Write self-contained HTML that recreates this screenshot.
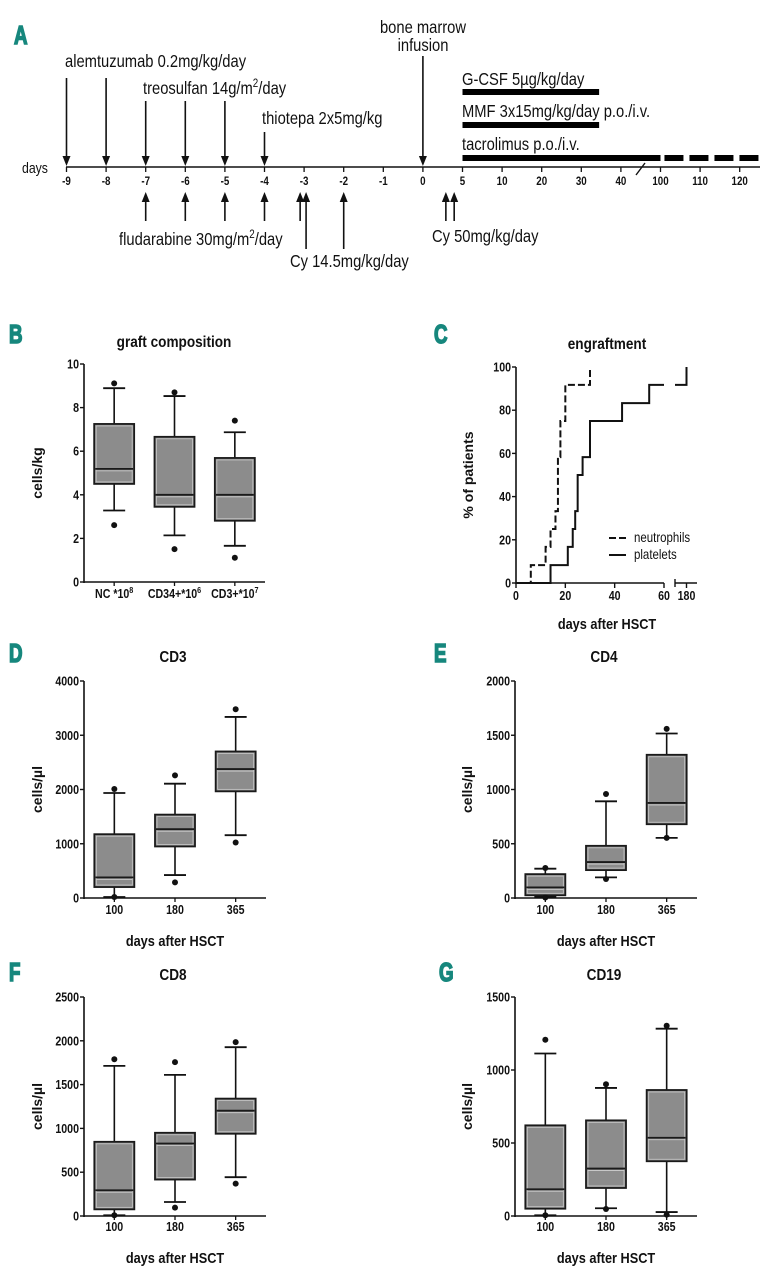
<!DOCTYPE html>
<html><head><meta charset="utf-8"><style>
html,body{margin:0;padding:0;background:#fff;}
svg{display:block;}
</style></head><body>
<svg id="fig" xmlns="http://www.w3.org/2000/svg" width="774" height="1280" viewBox="0 0 774 1280">
<rect width="774" height="1280" fill="#fff"/>
</svg>
<script>
// ---------- Panel A data ----------
const tlTickLabels=["-9","-8","-7","-6","-5","-4","-3","-2","-1","0","5","10","20","30","40","100","110","120"];
// ---------- Panel B data ----------
const bCats=["NC *10","CD34+*10","CD3+*10"];
const bExp=["8","6","7"];
const bMin=[3.28,2.14,1.66];
const bQ1=[4.5,3.45,2.81];
const bMed=[5.19,4.0,4.0];
const bQ3=[7.25,6.66,5.69];
const bMax=[8.89,8.53,6.87];
const bOutHi=[9.11,8.70,7.40];
const bOutLo=[2.61,1.51,1.11];
const bTicks=[0,2,4,6,8,10];
// ---------- Panel C data ----------
const neutDays=[6,12,14,16,17,18,20,30];
const neutPct=[8.3,16.7,25,33.3,58.3,75,91.7,100];
const platDays=[14,21,23,24,25,27,30,43,54,180];
const platPct=[8.3,16.7,25,33.3,50,58.3,75,83.3,91.7,100];
const cYTicks=[0,20,40,60,80,100];
const cXTicks=[0,20,40,60,180];
// ---------- Panels D-G data ----------
const dayCats=["100","180","365"];
const dMin=[18,423,1158], dQ1=[202,950,1966], dMed=[380,1268,2377], dQ3=[1176,1537,2701], dMax=[1936,2107,3338], dOutHi=[2009,2260,3479], dOutLo=[18,288,1023];
const dTicks=[0,1000,2000,3000,4000];
const eMin=[10,190,554], eQ1=[25,257,680], eMed=[98,331,876], eQ3=[220,481,1320], eMax=[270,891,1516], eOutHi=[276,959,1559], eOutLo=[5,175,554];
const eTicks=[0,500,1000,1500,2000];
const fMin=[8,160,443], fQ1=[76,416,939], fMed=[294,828,1202], fQ3=[847,950,1340], fMax=[1714,1611,1927], fOutHi=[1790,1756,1985], fOutLo=[8,95,370];
const fTicks=[0,500,1000,1500,2000,2500];
const gMin=[5,53,27], gQ1=[50,192,375], gMed=[183,325,536], gQ3=[621,655,863], gMax=[1113,877,1283], gOutHi=[1207,902,1303], gOutLo=[5,48,9];
const gTicks=[0,500,1000,1500];

const NS="http://www.w3.org/2000/svg";
const svg=document.getElementById('fig');
const FONT='"Liberation Sans", Arial, sans-serif';
function el(tag,attrs,parent){const e=document.createElementNS(NS,tag);for(const k in attrs)e.setAttribute(k,attrs[k]);(parent||svg).appendChild(e);return e;}
function grp(name){const g=el('g',{});return g;}
function txt(p,x,y,s,o){o=o||{};const sx=o.sx||0.85;
  const t=el('text',{x:0,y:0,'font-family':FONT,'font-size':o.size||12,'font-weight':o.bold?'bold':'normal','text-anchor':o.anchor||'start',fill:o.fill||'#111',transform:`translate(${x},${y}) ${o.rot?'rotate('+o.rot+') ':''}scale(${sx},1)`},p);
  if(o.stroke){t.setAttribute('stroke',o.fill);t.setAttribute('stroke-width',o.stroke);}
  t.textContent=s;return t;}
function line(p,x1,y1,x2,y2,w,c,dash){const a={x1,y1,x2,y2,stroke:c||'#111','stroke-width':w||1.5};if(dash)a['stroke-dasharray']=dash;return el('line',a,p);}
function letter(name,x,y,s){const g=grp(name);txt(g,x,y,s,{size:26,bold:true,fill:'#16877d',sx:0.72,stroke:1.6});}

// ================= Panel A =================
(function(){
 const g=grp('panel-a-timeline');
 letter('panel-a-label',14,44,'A');
 const Y=167;
 const pos=s=>66.5+s*39.6;
 line(g,66,Y,760,Y,1.6);
 txt(g,22,Y+6,'days',{size:15,sx:0.82});
 tlTickLabels.forEach((l,i)=>{const x=pos(i);line(g,x,Y,x,Y+5,1.3);
   const t=txt(g,x,Y+18,l,{size:11.5,bold:true,anchor:'middle'});});
 line(g,636,175,645,163,1.4);
 function down(s,top){const x=pos(s);line(g,x,top,x,Y-9,1.6);el('polygon',{points:`${x-4},${Y-11} ${x+4},${Y-11} ${x},${Y-1}`,fill:'#111'},g);}
 function up(s,bot){const x=pos(s);line(g,x,Y+33,x,bot,1.6);el('polygon',{points:`${x-4},${Y+35} ${x+4},${Y+35} ${x},${Y+25}`,fill:'#111'},g);}
 down(0,78);down(1,78);
 down(2,101);down(3,101);down(4,101);
 down(5,132);
 down(9,56);
 up(2,221);up(3,221);up(4,221);up(5,221);
 up(5.9,221);up(6.05,249);up(7,249);
 up(9.58,221);up(9.79,221);
 const ao={size:18,sx:0.82};
 txt(g,65,67,'alemtuzumab 0.2mg/kg/day',ao);
 const tr=txt(g,143,94,'treosulfan 14g/m',ao);const s1=el('tspan',{dy:-7,'font-size':12},tr);s1.textContent='2';const s1b=el('tspan',{dy:7},tr);s1b.textContent='/day';
 txt(g,262,124,'thiotepa 2x5mg/kg',ao);
 txt(g,423,33,'bone marrow',Object.assign({anchor:'middle'},ao));
 txt(g,423,51,'infusion',Object.assign({anchor:'middle'},ao));
 txt(g,462,85,'G-CSF 5µg/kg/day',ao);
 txt(g,462,117,'MMF 3x15mg/kg/day p.o./i.v.',ao);
 txt(g,462,150,'tacrolimus p.o./i.v.',ao);
 el('rect',{x:pos(10),y:89,width:pos(13.45)-pos(10),height:6,fill:'#000'},g);
 el('rect',{x:pos(10),y:122,width:pos(13.45)-pos(10),height:6,fill:'#000'},g);
 el('rect',{x:pos(10),y:155,width:pos(15)-pos(10),height:6,fill:'#000'},g);
 line(g,pos(15.1),158,760,158,6,'#000','19 6');
 const fl=txt(g,119,245,'fludarabine 30mg/m',ao);const s2=el('tspan',{dy:-7,'font-size':12},fl);s2.textContent='2';const s2b=el('tspan',{dy:7},fl);s2b.textContent='/day';
 txt(g,290,267,'Cy 14.5mg/kg/day',ao);
 txt(g,432,242,'Cy 50mg/kg/day',ao);
})();

// ================= Box plot helper =================
function boxPanel(cfg){
 const g=grp(cfg.name);
 letter(cfg.name+'-letter',cfg.lx,cfg.ly,cfg.letter);
 const {x0,x1,yTop,yBot,vmax}=cfg;
 const ys=v=>yBot-(v/vmax)*(yBot-yTop);
 txt(g,cfg.tx,cfg.ty,cfg.title,{size:16,bold:true,anchor:'middle'});
 line(g,x0,yTop,x0,yBot+1,1.6);
 line(g,x0,yBot,x1,yBot,1.6);
 cfg.ticks.forEach(t=>{const y=ys(t);line(g,x0-4,y,x0,y,1.4);txt(g,x0-5,y+4.5,String(t),{size:12.5,bold:true,anchor:'end'});});
 txt(g,cfg.ylx,(yTop+yBot)/2,cfg.ylabel,{size:14,bold:true,anchor:'middle',rot:-90,sx:1});
 if(cfg.xlabel)txt(g,(x0+x1)/2,cfg.xly,cfg.xlabel,{size:15,bold:true,anchor:'middle'});
 const n=cfg.cats.length, step=(x1-x0)/n;
 cfg.cats.forEach((c,i)=>{
  const cx=x0+step*(i+0.5);
  const bg=el('g',{},g);
  
  
  line(bg,cx,yBot,cx,yBot+4,1.3);
  line(bg,cx,ys(cfg.max[i]),cx,ys(cfg.min[i]),1.6);
  line(bg,cx-11,ys(cfg.max[i]),cx+11,ys(cfg.max[i]),1.8);
  line(bg,cx-11,ys(cfg.min[i]),cx+11,ys(cfg.min[i]),1.8);
  const top=ys(cfg.q3[i]),bot=ys(cfg.q1[i]);
  el('rect',{x:cx-20,y:top,width:40,height:bot-top,fill:'#8c8c8c',stroke:'#1a1a1a','stroke-width':1.8},bg);
  el('rect',{x:cx-18,y:top+2,width:36,height:Math.max(0,bot-top-4),fill:'none',stroke:'#c8c8c8','stroke-width':0.8},bg);
  const my=ys(cfg.med[i]);
  line(bg,cx-19,my,cx+19,my,1.8,'#1a1a1a');
  line(bg,cx-18,my+2,cx+18,my+2,0.8,'#d0d0d0');
  el('circle',{cx,cy:ys(cfg.outHi[i]),r:3,fill:'#111'},bg);
  el('circle',{cx,cy:ys(cfg.outLo[i]),r:3,fill:'#111'},bg);
  const lab=txt(bg,cx,cfg.catY,c,{size:12.5,bold:true,anchor:'middle'});
  if(cfg.exp){const sp=el('tspan',{dy:-5,'font-size':8.5},lab);sp.textContent=cfg.exp[i];}
 });
}

boxPanel({name:'panel-b-graft-composition',letter:'B',lx:9,ly:343,title:'graft composition',tx:174,ty:347,
 x0:84,x1:265,yTop:364,yBot:582,vmax:10,ticks:bTicks,ylabel:'cells/kg',ylx:42,
 cats:bCats,exp:bExp,catY:598,min:bMin,q1:bQ1,med:bMed,q3:bQ3,max:bMax,outHi:bOutHi,outLo:bOutLo});
boxPanel({name:'panel-d-cd3',letter:'D',lx:9,ly:662,title:'CD3',tx:173,ty:662,
 x0:84,x1:266,yTop:681,yBot:898,vmax:4000,ticks:dTicks,ylabel:'cells/µl',ylx:42,xlabel:'days after HSCT',xly:946,
 cats:dayCats,catY:914,min:dMin,q1:dQ1,med:dMed,q3:dQ3,max:dMax,outHi:dOutHi,outLo:dOutLo});
boxPanel({name:'panel-e-cd4',letter:'E',lx:434,ly:662,title:'CD4',tx:604,ty:662,
 x0:515,x1:697,yTop:681,yBot:898,vmax:2000,ticks:eTicks,ylabel:'cells/µl',ylx:472,xlabel:'days after HSCT',xly:946,
 cats:dayCats,catY:914,min:eMin,q1:eQ1,med:eMed,q3:eQ3,max:eMax,outHi:eOutHi,outLo:eOutLo});
boxPanel({name:'panel-f-cd8',letter:'F',lx:9,ly:981,title:'CD8',tx:173,ty:980,
 x0:84,x1:266,yTop:997,yBot:1216,vmax:2500,ticks:fTicks,ylabel:'cells/µl',ylx:42,xlabel:'days after HSCT',xly:1263,
 cats:dayCats,catY:1231,min:fMin,q1:fQ1,med:fMed,q3:fQ3,max:fMax,outHi:fOutHi,outLo:fOutLo});
boxPanel({name:'panel-g-cd19',letter:'G',lx:439,ly:981,title:'CD19',tx:604,ty:980,
 x0:515,x1:697,yTop:997,yBot:1216,vmax:1500,ticks:gTicks,ylabel:'cells/µl',ylx:472,xlabel:'days after HSCT',xly:1263,
 cats:dayCats,catY:1231,min:gMin,q1:gQ1,med:gMed,q3:gQ3,max:gMax,outHi:gOutHi,outLo:gOutLo});

// ================= Panel C =================
(function(){
 const g=grp('panel-c-engraftment');
 letter('panel-c-letter',434,343,'C');
 const x0=516,yTop=367,yBot=583;
 const xs=d=>d<=60?x0+d*(664-x0)/60:686.5;
 const ys=v=>yBot-v/100*(yBot-yTop);
 txt(g,607,349,'engraftment',{size:16,bold:true,anchor:'middle'});
 line(g,x0,yTop,x0,yBot+1,1.6);
 line(g,x0,yBot,664,yBot,1.6);
 line(g,675,yBot,697,yBot,1.6);
 line(g,675,yBot-4,675,yBot+4,1.4);
 cYTicks.forEach(t=>{const y=ys(t);line(g,x0-4,y,x0,y,1.4);txt(g,x0-5,y+4.5,String(t),{size:12.5,bold:true,anchor:'end'});});
 cXTicks.forEach(t=>{const x=xs(t);line(g,x,yBot,x,yBot+5,1.4);txt(g,x,yBot+17,String(t),{size:12.5,bold:true,anchor:'middle'});});
 txt(g,473,(yTop+yBot)/2,'% of patients',{size:14,bold:true,anchor:'middle',rot:-90,sx:1});
 txt(g,607,629,'days after HSCT',{size:15,bold:true,anchor:'middle'});
 function steps(days,pct){let d='M'+x0+','+yBot;let prev=0;
   days.forEach((dd,i)=>{const x=xs(dd);d+=' L'+x+','+ys(prev)+' L'+x+','+ys(pct[i]);prev=pct[i];});return d;}
 const n=el('path',{d:steps(neutDays,neutPct),fill:'none',stroke:'#111','stroke-width':2,'stroke-dasharray':'7 3'},g);
 
 let d='M'+x0+','+yBot;let prev=0;
 platDays.forEach((dd,i)=>{
   if(dd>60){d+=' L'+xs(60)+','+ys(prev)+' M675,'+ys(prev)+' L'+xs(dd)+','+ys(prev)+' L'+xs(dd)+','+ys(platPct[i]);}
   else{const x=xs(dd);d+=' L'+x+','+ys(prev)+' L'+x+','+ys(platPct[i]);}
   prev=platPct[i];});
 const p=el('path',{d,fill:'none',stroke:'#111','stroke-width':2},g);
 
 const lg=el('g',{},g);
 
 
 line(lg,609,538,626,538,2,'#111','7 3');
 txt(lg,634,542,'neutrophils',{size:14,sx:0.82});
 line(lg,609,555,626,555,2,'#111');
 txt(lg,634,559,'platelets',{size:14,sx:0.82});
})();
</script>
</body></html>
